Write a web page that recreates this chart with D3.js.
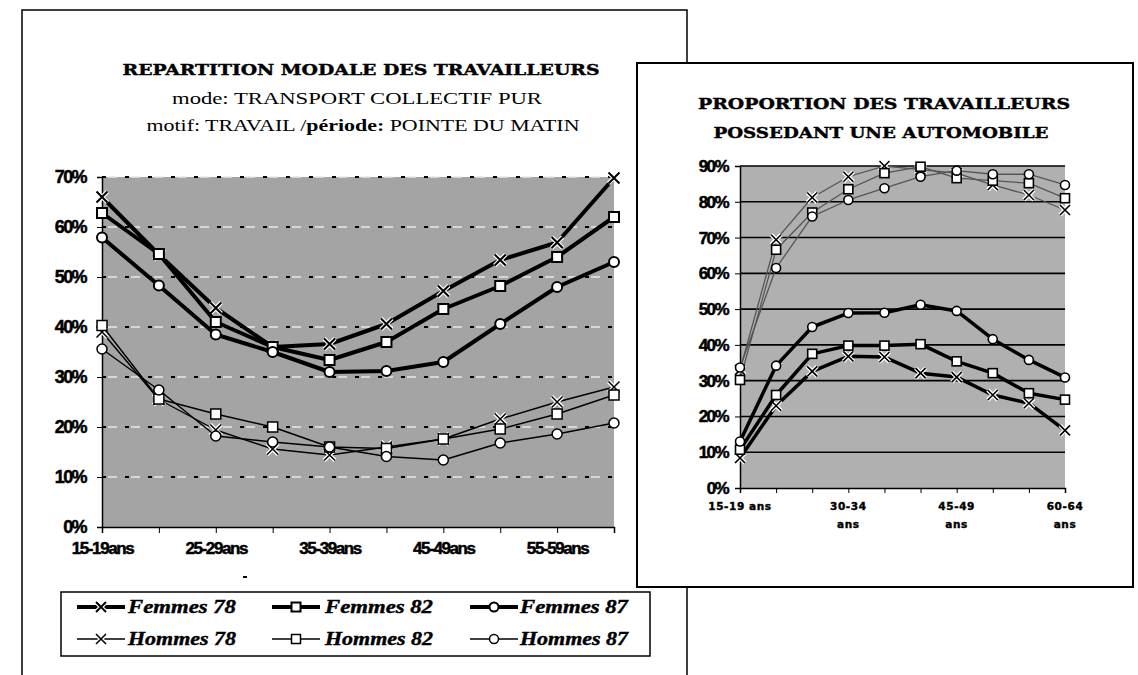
<!DOCTYPE html>
<html><head><meta charset="utf-8">
<script src="https://cdn.jsdelivr.net/npm/d3@7"></script>
<style>body{margin:0;background:#fff}svg{display:block}</style>
</head><body>
<script>
// ---------- DATA ----------
const ages = ["15-19 ans","20-24 ans","25-29 ans","30-34 ans","35-39 ans","40-44 ans","45-49 ans","50-54 ans","55-59 ans","60-64 ans"];
const leftTickLabels = {"15-19 ans":"15-19ans","25-29 ans":"25-29ans","35-39 ans":"35-39ans","45-49 ans":"45-49ans","55-59 ans":"55-59ans"};
const rightTickLabels = {"15-19 ans":["15-19 ans"],"30-34 ans":["30-34","ans"],"45-49 ans":["45-49","ans"],"60-64 ans":["60-64","ans"]};
const leftYTicks = [0,10,20,30,40,50,60,70];
const rightYTicks = [0,10,20,30,40,50,60,70,80,90];

// Left chart: modal share (transport collectif pur), %
const femmes78L = [66, 54.5, 43.8, 36, 36.6, 40.6, 47.2, 53.4, 56.9, 69.8];
const femmes82L = [62.8, 54.6, 41, 36, 33.4, 37, 43.6, 48.2, 54, 62];
const femmes87L = [57.9, 48.3, 38.5, 35, 31, 31.2, 33, 40.6, 48, 53];
const hommes78L = [39, 25.5, 19.4, 15.6, 14.4, 16, 17.6, 21.6, 25, 28];
const hommes82L = [40.3, 25.6, 22.6, 20, 16, 15.7, 17.6, 19.6, 22.6, 26.4];
const hommes87L = [35.6, 27.4, 18.2, 17, 16, 14.1, 13.4, 16.8, 18.6, 20.8];

// Right chart: car ownership, %
const femmes78R = [8.4, 23, 32.6, 36.8, 36.6, 32.1, 31, 26, 23.7, 16.1];
const femmes82R = [10.7, 26, 37.5, 39.8, 39.8, 40.2, 35.4, 32.1, 26.5, 24.7];
const femmes87R = [13, 34.2, 45, 48.9, 49, 51.2, 49.5, 41.6, 35.8, 30.9];
const hommes78R = [33, 69.4, 81.2, 87, 90, 89, 88, 84.7, 81.9, 77.7];
const hommes82R = [30.2, 66.6, 77, 83.5, 88, 89.8, 86.6, 85.9, 85.2, 81];
const hommes87R = [33.7, 61.5, 75.9, 80.5, 83.8, 87, 88.7, 87.7, 87.7, 84.7];

const seriesNames = ["Femmes 78","Femmes 82","Femmes 87","Hommes 78","Hommes 82","Hommes 87"];
const markers = ["x","square","circle","x","square","circle"];

// ---------- DRAW ----------
const W = 1138, H = 675;
const svg = d3.select("body").append("svg").attr("width", W).attr("height", H);

function marker(g, type, x, y, s, sw) {
  if (type === "x") {
    g.append("path").attr("d", `M${x-s},${y-s}L${x+s},${y+s}M${x-s},${y+s}L${x+s},${y-s}`)
      .attr("stroke", "#fff").attr("stroke-width", sw + 2.5).attr("fill", "none");
    g.append("path").attr("d", `M${x-s},${y-s}L${x+s},${y+s}M${x-s},${y+s}L${x+s},${y-s}`)
      .attr("stroke", "#000").attr("stroke-width", sw).attr("fill", "none");
  } else if (type === "square") {
    g.append("rect").attr("x", x - s).attr("y", y - s).attr("width", 2 * s).attr("height", 2 * s)
      .attr("fill", "#fff").attr("stroke", "#000").attr("stroke-width", sw);
  } else {
    g.append("circle").attr("cx", x).attr("cy", y).attr("r", s)
      .attr("fill", "#fff").attr("stroke", "#000").attr("stroke-width", sw);
  }
}
function heavy(sel, size, ls) {
  sel.attr("font-family", "Liberation Sans").attr("font-weight", "bold").attr("font-size", size)
    .attr("letter-spacing", ls).attr("stroke", "#000").attr("stroke-width", 0.5).attr("fill", "#000");
}

// ===== LEFT PANEL =====
svg.append("rect").attr("x", 22).attr("y", 10).attr("width", 665).attr("height", 700)
  .attr("fill", "#fff").attr("stroke", "#000").attr("stroke-width", 1.5);

const t1 = svg.append("g").attr("text-anchor", "middle").attr("fill", "#000");
t1.append("text").attr("x", 361).attr("y", 75).attr("font-family", "DejaVu Serif").attr("font-weight", "bold")
  .attr("font-size", 15).attr("textLength", 477).attr("lengthAdjust", "spacingAndGlyphs")
  .attr("stroke", "#000").attr("stroke-width", 0.4)
  .text("REPARTITION MODALE DES TRAVAILLEURS");
t1.append("text").attr("x", 357).attr("y", 104).attr("font-family", "Liberation Serif")
  .attr("font-size", 17).attr("textLength", 370).attr("lengthAdjust", "spacingAndGlyphs")
  .text("mode: TRANSPORT COLLECTIF PUR");
const t1c = t1.append("text").attr("x", 363).attr("y", 131).attr("font-family", "Liberation Serif")
  .attr("font-size", 17).attr("textLength", 433).attr("lengthAdjust", "spacingAndGlyphs");
t1c.append("tspan").text("motif: TRAVAIL /");
t1c.append("tspan").attr("font-weight", "bold").text("période:");
t1c.append("tspan").text(" POINTE DU MATIN");

const xL = d3.scalePoint().domain(ages).range([102, 614]).padding(0);
const yL = d3.scaleLinear().domain([0, 70]).range([527, 177]);

svg.append("rect").attr("x", xL.range()[0]).attr("y", yL(70)).attr("width", xL.range()[1] - xL.range()[0])
  .attr("height", yL(0) - yL(70)).attr("fill", "#a4a4a4");

// dashed grid
const gridL = svg.append("g");
leftYTicks.filter(d => d > 0).forEach(d => {
  gridL.append("line").attr("x1", xL.range()[0]).attr("x2", xL.range()[1]).attr("y1", yL(d)).attr("y2", yL(d))
    .attr("stroke", "#e8e8e8").attr("stroke-width", 1.3).attr("stroke-dasharray", "9,14").attr("stroke-dashoffset", -6);
  gridL.append("line").attr("x1", xL.range()[0]).attr("x2", xL.range()[1]).attr("y1", yL(d)).attr("y2", yL(d))
    .attr("stroke", "#000").attr("stroke-width", 2).attr("stroke-dasharray", "4,19");
});

// axes
const axL = svg.append("g").attr("transform", `translate(${xL.range()[0]},0)`)
  .call(d3.axisLeft(yL).tickValues(leftYTicks).tickSize(5).tickFormat(d => d + "%"));
axL.select(".domain").attr("stroke-width", 1.5);
heavy(axL.selectAll("text").attr("dx", -8), 18, -1.6);
const axLx = svg.append("g").attr("transform", `translate(0,${yL(0)})`)
  .call(d3.axisBottom(xL).tickSize(6).tickFormat(d => leftTickLabels[d] || ""));
axLx.select(".domain").attr("stroke-width", 1.5);
heavy(axLx.selectAll("text").attr("dy", 18), 17, -1.4);
svg.append("rect").attr("x", 243).attr("y", 576).attr("width", 4).attr("height", 2).attr("fill", "#000");

const leftSeries = [femmes78L, femmes82L, femmes87L, hommes78L, hommes82L, hommes87L];
const line = (xs, ys) => d3.line().x((d, i) => xs(ages[i])).y(d => ys(d));
// draw hommes first (thin), then femmes (thick)
[3, 4, 5, 0, 1, 2].forEach(k => {
  const fem = k < 3;
  const g = svg.append("g");
  g.append("path").datum(leftSeries[k]).attr("d", line(xL, yL)).attr("fill", "none")
    .attr("stroke", "#000").attr("stroke-width", fem ? 4 : 1.4).attr("stroke-linejoin", "round");
  leftSeries[k].forEach((v, i) => marker(g, markers[k], xL(ages[i]), yL(v), markers[k] === "x" ? 5.5 : 5, fem ? 2 : 1.5));
});

// legend
svg.append("rect").attr("x", 61).attr("y", 592).attr("width", 589).attr("height", 64)
  .attr("fill", "#fff").attr("stroke", "#000").attr("stroke-width", 1.5);
const legCols = [{sx: 77, tx: 128}, {sx: 272, tx: 325}, {sx: 470, tx: 520}];
const legRows = [607, 639];
seriesNames.forEach((name, k) => {
  const c = legCols[k % 3], r = legRows[Math.floor(k / 3)];
  const fem = k < 3;
  const g = svg.append("g");
  g.append("line").attr("x1", c.sx).attr("x2", c.sx + 48).attr("y1", r).attr("y2", r)
    .attr("stroke", "#000").attr("stroke-width", fem ? 4 : 1.4);
  marker(g, markers[k], c.sx + 24, r, markers[k] === "x" ? 5 : 4.5, fem ? 2 : 1.5);
  g.append("text").attr("x", c.tx).attr("y", r + 6).attr("font-family", "Liberation Serif")
    .attr("font-weight", "bold").attr("font-style", "italic").attr("font-size", 18)
    .attr("stroke", "#000").attr("stroke-width", 0.4)
    .attr("textLength", 108).attr("lengthAdjust", "spacingAndGlyphs").text(name);
});

// ===== RIGHT PANEL =====
svg.append("rect").attr("x", 637).attr("y", 63).attr("width", 496).attr("height", 524)
  .attr("fill", "#fff").attr("stroke", "#000").attr("stroke-width", 2);

const t2 = svg.append("g").attr("text-anchor", "middle").attr("font-family", "DejaVu Serif")
  .attr("font-weight", "bold").attr("font-size", 15).attr("stroke", "#000").attr("stroke-width", 0.4);
t2.append("text").attr("x", 884).attr("y", 109).attr("textLength", 372).attr("lengthAdjust", "spacingAndGlyphs")
  .text("PROPORTION DES TRAVAILLEURS");
t2.append("text").attr("x", 881).attr("y", 138).attr("textLength", 335).attr("lengthAdjust", "spacingAndGlyphs")
  .text("POSSEDANT UNE AUTOMOBILE");

const xR = d3.scalePoint().domain(ages).range([740, 1065]).padding(0);
const yR = d3.scaleLinear().domain([0, 90]).range([488, 166]);

svg.append("rect").attr("x", xR.range()[0]).attr("y", yR(90)).attr("width", xR.range()[1] - xR.range()[0])
  .attr("height", yR(0) - yR(90)).attr("fill", "#b0b0b0");
rightYTicks.filter(d => d > 0).forEach(d => {
  svg.append("line").attr("x1", xR.range()[0]).attr("x2", xR.range()[1]).attr("y1", yR(d)).attr("y2", yR(d))
    .attr("stroke", "#000").attr("stroke-width", 1.6);
});
const axR = svg.append("g").attr("transform", `translate(${xR.range()[0]},0)`)
  .call(d3.axisLeft(yR).tickValues(rightYTicks).tickSize(5).tickFormat(d => d + "%"));
axR.select(".domain").attr("stroke-width", 1.5);
heavy(axR.selectAll("text").attr("dx", -4), 17, -1.6);
const axRx = svg.append("g").attr("transform", `translate(0,${yR(0)})`)
  .call(d3.axisBottom(xR).tickSize(5).tickFormat(""));
axRx.select(".domain").attr("stroke-width", 1.5);
ages.forEach(a => {
  const lab = rightTickLabels[a];
  if (!lab) return;
  lab.forEach((s, j) => {
    svg.append("text").attr("x", xR(a)).attr("y", 510 + j * 18).attr("text-anchor", "middle")
      .attr("font-family", "DejaVu Sans").attr("font-weight", "bold").attr("font-size", 10.5)
      .attr("stroke", "#000").attr("stroke-width", 0.4)
      .attr("letter-spacing", 0.6).text(s);
  });
});

const rightSeries = [femmes78R, femmes82R, femmes87R, hommes78R, hommes82R, hommes87R];
[3, 4, 5, 0, 1, 2].forEach(k => {
  const fem = k < 3;
  const g = svg.append("g");
  g.append("path").datum(rightSeries[k]).attr("d", line(xR, yR)).attr("fill", "none")
    .attr("stroke", fem ? "#000" : "#555").attr("stroke-width", fem ? 3.5 : 1.3).attr("stroke-linejoin", "round");
  rightSeries[k].forEach((v, i) => marker(g, markers[k], xR(ages[i]), yR(v), markers[k] === "x" ? 5 : 4.5, 1.6));
});
</script>
</body></html>
